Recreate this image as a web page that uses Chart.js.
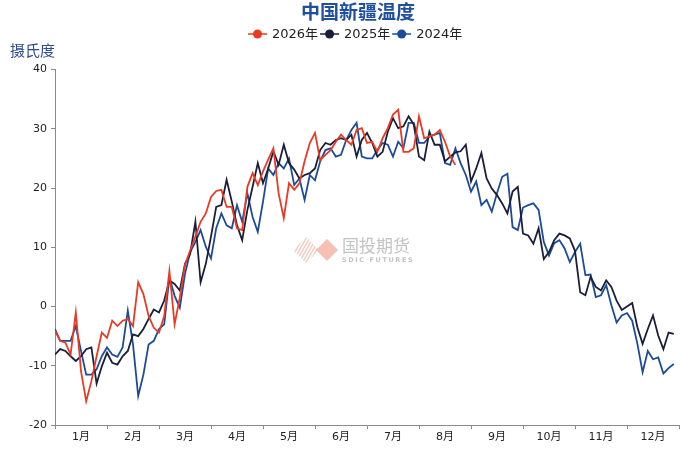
<!DOCTYPE html>
<html>
<head>
<meta charset="utf-8">
<script src="https://cdn.jsdelivr.net/npm/chart.js@4.4.1/dist/chart.umd.min.js"></script>
<style>
  html, body { margin: 0; padding: 0; background: #fff; }
  #wrap { width: 695px; height: 451px; }
</style>
</head>
<body>
<div id="wrap"><canvas id="chart" width="695" height="451"></canvas></div>
<script>
// month labels on the x axis, readings every ~3 days (10 per month)
const months = ["1月", "2月", "3月", "4月", "5月", "6月", "7月", "8月", "9月", "10月", "11月", "12月"];
const stepsPerMonth = 10;
const seriesNames = ["2026年", "2025年", "2024年"];

const temp2026 = [
  -4.1, -5.8, -6.1, -8.1, -1.0, -10.9, -16.0, -12.6, -8.4, -4.4,
  -5.3, -2.4, -3.3, -2.4, -2.1, -3.3, 4.1, 2.1, -1.6, -3.6,
  -4.4, -1.6, 6.0, -3.0, 1.5, 7.0, 9.5, 11.8, 14.3, 15.7,
  18.5, 19.5, 19.7, 16.8, 16.8, 13.2, 12.9, 20.2, 22.5, 20.5,
  22.8, 24.8, 26.7, 19.1, 14.9, 20.8, 19.7, 20.8, 24.5, 27.6,
  29.3, 24.7, 25.6, 26.4, 27.8, 29.0, 28.1, 27.3, 29.8, 30.1,
  27.6, 27.8, 26.1, 28.4, 30.1, 32.4, 33.2, 26.1, 26.1, 26.7,
  32.1, 28.4, 28.7, 29.0, 29.8, 27.8, 25.3, 23.9
];

const temp2025 = [
  -8.1, -7.2, -7.5, -8.4, -9.2, -8.4, -7.2, -6.9, -13.0, -10.1,
  -7.8, -9.5, -9.8, -8.4, -7.5, -4.7, -5.0, -3.8, -2.1, -0.5,
  -1.0, 1.0, 4.4, 3.8, 2.7, 7.2, 8.9, 14.3, 4.1, 7.2,
  11.8, 16.8, 17.1, 21.4, 17.7, 13.7, 11.2, 16.3, 20.2, 24.2,
  20.8, 23.3, 26.2, 23.9, 27.3, 24.2, 23.1, 21.6, 22.2, 22.5,
  23.3, 26.4, 27.6, 27.3, 28.1, 28.4, 28.1, 29.0, 25.3, 28.1,
  29.3, 27.6, 25.3, 26.1, 29.5, 31.8, 30.1, 30.4, 32.1, 30.7,
  25.3, 24.7, 29.5, 27.3, 27.3, 24.5, 25.3, 26.0, 26.2, 27.3,
  21.1, 23.3, 25.9, 21.6, 19.9, 18.8, 17.4, 15.7, 19.4, 20.2,
  12.3, 12.0, 10.6, 13.2, 8.0, 9.2, 11.2, 12.3, 12.0, 11.5,
  9.4, 2.4, 1.9, 5.0, 3.3, 2.7, 4.4, 3.3, 1.0, -0.6,
  0.0, 0.6, -3.5, -6.3, -3.8, -1.5, -4.9, -7.2, -4.4, -4.6
];

const temp2024 = [
  -3.8, -5.8, -5.8, -5.8, -3.3, -7.5, -11.5, -11.5, -10.6, -8.4,
  -6.9, -8.1, -8.5, -6.9, -0.7, -6.4, -15.1, -11.5, -6.4, -5.8,
  -3.8, -3.0, 4.9, 1.8, -0.2, 5.5, 9.2, 10.9, 12.9, 10.1,
  8.1, 13.2, 15.7, 13.7, 13.2, 17.1, 14.3, 19.1, 15.1, 12.6,
  17.7, 23.3, 22.2, 24.2, 23.3, 25.0, 20.5, 21.6, 18.0, 22.2,
  21.3, 24.5, 26.4, 26.7, 25.3, 25.6, 28.1, 29.8, 31.0, 25.3,
  25.0, 25.0, 26.4, 27.6, 27.3, 25.3, 27.8, 26.7, 31.0, 31.0,
  27.6, 27.6, 28.7, 29.0, 29.3, 24.2, 23.9, 26.7, 24.2, 22.2,
  19.4, 21.1, 17.1, 18.0, 16.0, 19.1, 21.9, 22.4, 13.4, 12.9,
  16.7, 17.1, 17.4, 16.3, 10.9, 8.6, 10.7, 11.2, 9.8, 7.5,
  9.2, 10.6, 5.3, 5.4, 1.6, 1.9, 3.6, 0.2, -2.7, -1.5,
  -1.1, -2.4, -6.3, -11.1, -7.5, -8.9, -8.6, -11.3, -10.4, -9.7
];

const colors = ["#ea3a24", "#1b1e3a", "#1d4b9c"];
const uiFont = '"DejaVu Sans", "Noto Sans CJK SC", sans-serif';
const cjkFont = '"Noto Sans CJK SC", sans-serif';

const toPoints = (values) => values.map((v, i) => ({ x: i / stepsPerMonth, y: v }));

// title, legend, unit label and the watermark
const decor = {
  id: "decor",
  beforeDatasetsDraw(chart) {
    const ctx = chart.ctx;
    ctx.save();
    // striped part of the logo
    ctx.beginPath();
    ctx.moveTo(293, 250);
    ctx.lineTo(306, 237);
    ctx.lineTo(319, 250);
    ctx.lineTo(306, 263);
    ctx.closePath();
    ctx.clip();
    ctx.strokeStyle = "rgba(240,150,130,0.55)";
    ctx.lineWidth = 1.3;
    for (let i = -4; i < 12; i++) {
      ctx.beginPath();
      ctx.moveTo(288 + i * 3.4, 264);
      ctx.lineTo(304 + i * 3.4, 236);
      ctx.stroke();
    }
    ctx.restore();
    ctx.save();
    ctx.fillStyle = "rgba(240,150,130,0.6)";
    ctx.beginPath();
    ctx.moveTo(316, 250);
    ctx.lineTo(327, 239);
    ctx.lineTo(338, 250);
    ctx.lineTo(327, 261);
    ctx.closePath();
    ctx.fill();
    ctx.fillStyle = "rgba(170,170,170,0.7)";
    ctx.font = "17px " + cjkFont;
    ctx.textBaseline = "middle";
    ctx.fillText("国投期货", 342, 246);
    ctx.font = "bold 6.5px " + uiFont;
    ctx.letterSpacing = "1.6px";
    ctx.fillText("SDIC FUTURES", 342, 260);
    ctx.restore();
  },
  afterDraw(chart) {
    const ctx = chart.ctx;
    ctx.save();
    ctx.textBaseline = "middle";
    ctx.fillStyle = "#1f4fa0";
    ctx.font = "bold 19px " + cjkFont;
    ctx.textAlign = "center";
    ctx.fillText("中国新疆温度", 358, 12);

    ctx.textAlign = "left";
    ctx.fillStyle = "#2e4c8e";
    ctx.font = "15px " + cjkFont;
    ctx.fillText("摄氏度", 10, 50);

    // legend: line with dot, then label
    let x = 248;
    const y = 34;
    ctx.font = "13px " + uiFont;
    chart.data.datasets.forEach((ds) => {
      ctx.strokeStyle = ds.borderColor;
      ctx.lineWidth = 1.5;
      ctx.beginPath();
      ctx.moveTo(x, y);
      ctx.lineTo(x + 19, y);
      ctx.stroke();
      ctx.fillStyle = ds.borderColor;
      ctx.beginPath();
      ctx.arc(x + 9.5, y, 4.5, 0, Math.PI * 2);
      ctx.fill();
      ctx.fillStyle = "#222";
      ctx.fillText(ds.label, x + 24, y + 0.5);
      x += 24 + ctx.measureText(ds.label).width + 2;
    });
    ctx.restore();
  }
};

new Chart(document.getElementById("chart"), {
  type: "line",
  data: {
    datasets: [
      { label: seriesNames[0], data: toPoints(temp2026), borderColor: colors[0] },
      { label: seriesNames[1], data: toPoints(temp2025), borderColor: colors[1] },
      { label: seriesNames[2], data: toPoints(temp2024), borderColor: colors[2] }
    ]
  },
  options: {
    responsive: false,
    animation: false,
    parsing: true,
    layout: { padding: { top: 69.5, right: 16, left: 0, bottom: 0 } },
    elements: {
      line: { borderWidth: 1.8, tension: 0, fill: false },
      point: { radius: 0 }
    },
    plugins: {
      legend: { display: false },
      title: { display: false },
      tooltip: { enabled: false }
    },
    scales: {
      x: {
        type: "linear",
        min: 0,
        max: months.length,
        afterFit: (s) => { s.height = 26; },
        border: { color: "#8a8a8a", width: 1 },
        grid: { drawOnChartArea: false, drawTicks: true, tickLength: 4, color: "#8a8a8a" },
        ticks: {
          stepSize: 1,
          autoSkip: false,
          maxRotation: 0,
          labelOffset: 26,
          padding: 2,
          color: "#222",
          font: { size: 11, family: uiFont },
          callback: (v) => months[v] || ""
        }
      },
      y: {
        min: -20,
        max: 40,
        afterFit: (s) => { s.width = 55; },
        border: { color: "#8a8a8a", width: 1 },
        grid: { drawOnChartArea: false, drawTicks: true, tickLength: 4, color: "#8a8a8a" },
        ticks: {
          stepSize: 10,
          padding: 4,
          color: "#222",
          font: { size: 11, family: uiFont }
        }
      }
    }
  },
  plugins: [decor]
});
</script>
</body>
</html>
